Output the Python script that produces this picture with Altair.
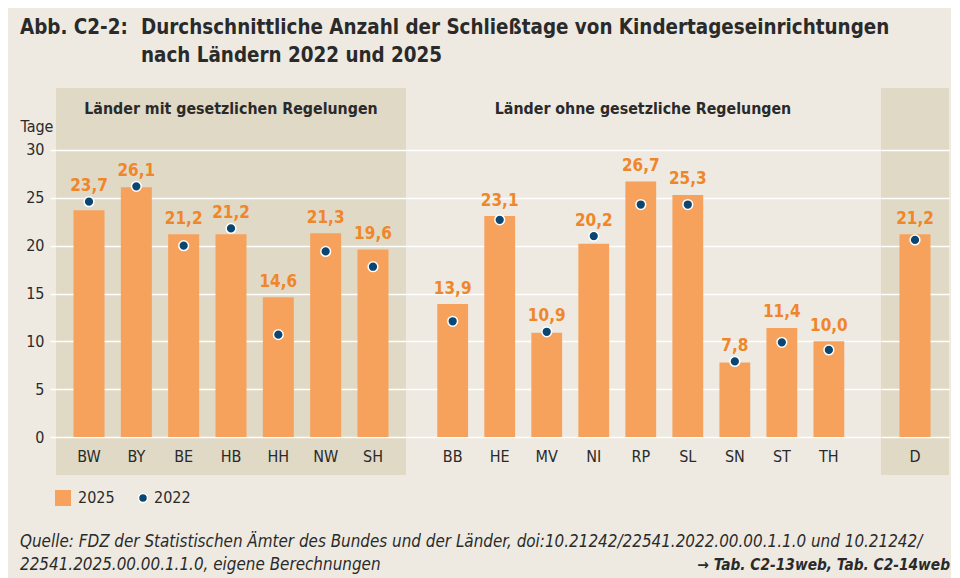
import altair as alt
import pandas as pd

# ---------------- data ----------------
states_reg = ["BW", "BY", "BE", "HB", "HH", "NW", "SH"]
v2025_reg = [23.7, 26.1, 21.2, 21.2, 14.6, 21.3, 19.6]
v2022_reg = [24.6, 26.2, 20.0, 21.8, 10.7, 19.4, 17.8]

states_noreg = ["BB", "HE", "MV", "NI", "RP", "SL", "SN", "ST", "TH"]
v2025_noreg = [13.9, 23.1, 10.9, 20.2, 26.7, 25.3, 7.8, 11.4, 10.0]
v2022_noreg = [12.1, 22.7, 11.0, 21.0, 24.3, 24.3, 7.9, 9.9, 9.1]

states_de = ["D"]
v2025_de = [21.2]
v2022_de = [20.6]

group_titles = ["Länder mit gesetzlichen Regelungen", "Länder ohne gesetzliche Regelungen"]
y_ticks = [0, 5, 10, 15, 20, 25, 30]
legend_labels = ["2025", "2022"]
title_prefix = ["Abb. C2-2:"]
title_lines = ["Durchschnittliche Anzahl der Schließtage von Kindertageseinrichtungen",
               "nach Ländern 2022 und 2025"]
source_lines = ["Quelle: FDZ der Statistischen Ämter des Bundes und der Länder, doi:10.21242/22541.2022.00.00.1.1.0 und 10.21242/",
                "22541.2025.00.00.1.1.0, eigene Berechnungen"]
table_ref = ["→ Tab. C2-13web, Tab. C2-14web"]

# ---------------- style ----------------
FONT = "DejaVu Sans Condensed, Liberation Sans Narrow, Roboto, sans-serif"
BG = "#eeeae2"
PANEL = "#e0d9c6"
ORANGE = "#f6a25c"
LABEL_ORANGE = "#f0862a"
NAVY = "#0b4672"
TEXT = "#2a2a2a"
H = 387
YDOM = [-3.97, 36.48]


def txt(lines, x, y, size, weight="normal", style="normal", align="left", dy=0):
    return alt.layer(*[
        alt.Chart(pd.DataFrame({"t": [l]})).mark_text(
            font=FONT, fontSize=size, fontWeight=weight, fontStyle=style,
            align=align, baseline="alphabetic", color=TEXT,
        ).encode(text="t:N", x=alt.value(x), y=alt.value(y + k * dy))
        for k, l in enumerate(lines)
    ])


def panel(states, v25, v22, pad_outer, align, show_y):
    df = pd.DataFrame({"land": states, "v2025": v25, "v2022": v22})
    base = alt.Chart(df).transform_calculate(
        top="max(datum.v2025, datum.v2022)",
        lab="replace(format(datum.v2025, '.1f'), '.', ',')",
    )
    x = alt.X(
        "land:N", sort=states,
        scale=alt.Scale(paddingInner=0.345, paddingOuter=pad_outer, align=align),
        axis=alt.Axis(title=None, domain=False, ticks=False, tickSize=0, labelAngle=0,
                      labelPadding=-19, labelBaseline="middle", labelFontSize=16,
                      labelColor=TEXT, labelFont=FONT),
    )
    yscale = alt.Scale(domain=YDOM, nice=False, zero=False)
    if show_y:
        yaxis = alt.Axis(values=y_ticks, grid=True, gridColor="white", gridWidth=1.6,
                         domain=False, ticks=True, tickColor="white", tickSize=6, tickWidth=1.6,
                         labelPadding=6, labelFontSize=16, labelColor=TEXT, labelFont=FONT,
                         title="Tage", titleAngle=0, titleAlign="left", titleBaseline="alphabetic",
                         titleX=-36, titleY=43, titleFontWeight="normal", titleFontSize=16,
                         titleFont=FONT, titleColor=TEXT)
    else:
        yaxis = alt.Axis(values=y_ticks, grid=True, gridColor="white", gridWidth=1.6,
                         domain=False, ticks=False, labels=False, title=None)
    bars = base.mark_bar(color=ORANGE).encode(
        x=x, y=alt.Y("v2025:Q", scale=yscale, axis=yaxis), y2=alt.datum(0)
    )
    dots = base.mark_circle(color=NAVY, stroke="white", strokeWidth=1.5, size=95, opacity=1).encode(
        x=alt.X("land:N", sort=states), y=alt.Y("v2022:Q", scale=yscale)
    )
    labels = base.mark_text(
        font=FONT, fontSize=17, fontWeight="bold", color=LABEL_ORANGE,
        baseline="alphabetic", dy=-10.5,
    ).encode(x=alt.X("land:N", sort=states), y=alt.Y("top:Q", scale=yscale), text="lab:N")
    return [bars, dots, labels]


# panel 1: Länder mit gesetzlichen Regelungen
p1_layers = panel(states_reg, v2025_reg, v2022_reg, 0.37, 0.5, True)
p1_title = txt([group_titles[0]], 175, 26, 15.8, weight="bold", align="center")
head_prefix = txt(title_prefix, -36, -54, 20.4, weight="bold")
head_lines = txt(title_lines, 85, -54, 20.4, weight="bold", dy=28)
src = txt(source_lines, -36, 459, 16.9, style="italic", dy=23)

leg_sq = alt.Chart(pd.DataFrame({"t": [legend_labels[0]]})).mark_square(
    color=ORANGE, size=256, opacity=1).encode(x=alt.value(7), y=alt.value(410))
leg_sq_t = alt.Chart(pd.DataFrame({"t": [legend_labels[0]]})).mark_text(
    font=FONT, fontSize=16, align="left", baseline="middle", color=TEXT
).encode(text="t:N", x=alt.value(22), y=alt.value(410))
leg_dot = alt.Chart(pd.DataFrame({"t": [legend_labels[1]]})).mark_circle(
    color=NAVY, stroke="white", strokeWidth=1.5, size=80, opacity=1
).encode(x=alt.value(87), y=alt.value(410))
leg_dot_t = alt.Chart(pd.DataFrame({"t": [legend_labels[1]]})).mark_text(
    font=FONT, fontSize=16, align="left", baseline="middle", color=TEXT
).encode(text="t:N", x=alt.value(98), y=alt.value(410))

p1 = alt.layer(*p1_layers, p1_title, head_prefix, head_lines, src,
               leg_sq, leg_sq_t, leg_dot, leg_dot_t).properties(
    width=350, height=H, view=alt.ViewBackground(fill=PANEL, strokeWidth=0))

# panel 2: Länder ohne gesetzliche Regelungen
p2_layers = panel(states_noreg, v2025_noreg, v2022_noreg, 0.723, 0.46, False)
p2_title = txt([group_titles[1]], 237, 26, 15.8, weight="bold", align="center")
p2 = alt.layer(*p2_layers, p2_title).properties(
    width=475, height=H, view=alt.ViewBackground(strokeWidth=0))

# panel 3: Deutschland
p3_layers = panel(states_de, v2025_de, v2022_de, 0.39, 0.5, False)
p3_ref = txt(table_ref, 69, 482, 15.3, weight="bold", style="italic", align="right")
p3 = alt.layer(*p3_layers, p3_ref).properties(
    width=68, height=H, view=alt.ViewBackground(fill=PANEL, strokeWidth=0))

chart = alt.hconcat(p1, p2, p3, spacing=0, bounds="flush").resolve_scale(
    x="independent", y="independent"
).properties(
    background=BG,
    padding={"left": 12, "top": 10, "right": 1, "bottom": 4},
)

chart.save("out.html", embed_options={"renderer": "svg", "actions": False})
